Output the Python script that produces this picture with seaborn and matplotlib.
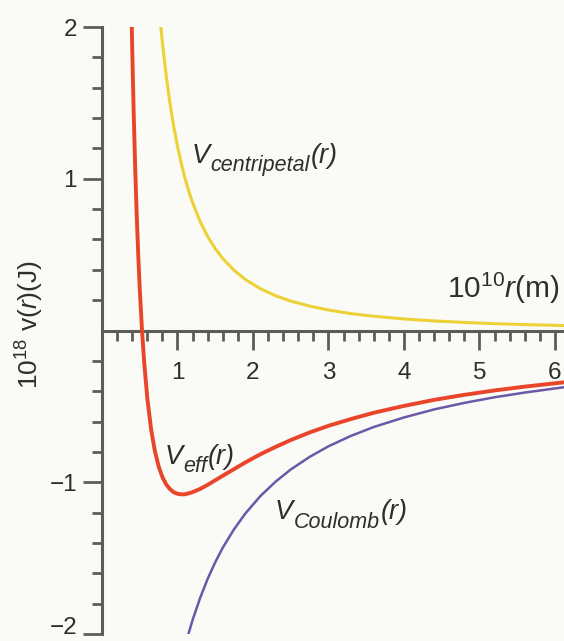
import numpy as np
import pandas as pd
import matplotlib
matplotlib.use("Agg")
import matplotlib.pyplot as plt
import matplotlib.transforms as mtransforms
import seaborn as sns
from matplotlib.ticker import FixedLocator

# ---- data (10^10 r in m, 10^18 V in J) ----
r = [0.38, 0.40, 0.42, 0.44, 0.46, 0.48, 0.50, 0.53, 0.56, 0.60, 0.65, 0.70,
     0.75, 0.80, 0.85, 0.90, 0.95, 1.00, 1.05, 1.10, 1.15, 1.20, 1.30, 1.40,
     1.50, 1.60, 1.75, 1.90, 2.10, 2.30, 2.50, 2.75, 3.00, 3.30, 3.60, 4.00,
     4.40, 4.80, 5.20, 5.60, 6.00, 6.15]
v_centripetal = [8.407, 7.588, 6.882, 6.271, 5.737, 5.269, 4.856, 4.322, 3.871,
                 3.372, 2.873, 2.478, 2.158, 1.897, 1.680, 1.499, 1.345, 1.214,
                 1.101, 1.003, 0.918, 0.843, 0.718, 0.619, 0.540, 0.474, 0.396,
                 0.336, 0.275, 0.229, 0.194, 0.161, 0.135, 0.111, 0.094, 0.076,
                 0.063, 0.053, 0.045, 0.039, 0.034, 0.032]
v_coulomb = [-6.026, -5.725, -5.452, -5.205, -4.978, -4.771, -4.580, -4.321,
             -4.089, -3.817, -3.523, -3.271, -3.053, -2.863, -2.694, -2.544,
             -2.411, -2.290, -2.181, -2.082, -1.991, -1.908, -1.762, -1.636,
             -1.527, -1.431, -1.309, -1.205, -1.090, -0.996, -0.916, -0.833,
             -0.763, -0.694, -0.636, -0.573, -0.520, -0.477, -0.440, -0.409,
             -0.382, -0.372]
v_eff = [2.381, 1.863, 1.430, 1.066, 0.759, 0.498, 0.276, 0.001, -0.218,
         -0.445, -0.650, -0.793, -0.895, -0.966, -1.014, -1.045, -1.066,
         -1.076, -1.080, -1.079, -1.073, -1.065, -1.044, -1.017, -0.987,
         -0.957, -0.913, -0.869, -0.815, -0.767, -0.722, -0.672, -0.628,
         -0.583, -0.542, -0.497, -0.457, -0.424, -0.395, -0.370, -0.348,
         -0.340]

x_major = [1, 2, 3, 4, 5, 6]
x_labels = ["1", "2", "3", "4", "5", "6"]
y_major = [-2, -1, 1, 2]
y_labels = ["\u22122", "\u22121", "1", "2"]

# ---- style ----
bg = "#fafaf6"
axis_col = "#5c5c58"
text_col = "#2e2e2e"
col_cent = "#ecd236"
col_eff = "#e8452a"
col_coul = "#6a58a8"

sns.set_theme(style="white")
plt.rcParams["font.family"] = ["Liberation Sans", "DejaVu Sans"]
plt.rcParams["mathtext.fontset"] = "custom"
plt.rcParams["mathtext.rm"] = "Liberation Sans"
plt.rcParams["mathtext.it"] = "Liberation Sans:italic"
plt.rcParams["mathtext.bf"] = "Liberation Sans:bold"

fig = plt.figure(figsize=(5.64, 6.41), dpi=100, facecolor=bg)
ax = fig.add_axes([102 / 564, 7 / 641, 462 / 564, 607 / 641])
ax.set_facecolor(bg)

sns.lineplot(x=r, y=v_centripetal, ax=ax, color=col_cent, linewidth=2.2,
             sort=False, legend=False)
sns.lineplot(x=r, y=v_coulomb, ax=ax, color=col_coul, linewidth=1.8,
             sort=False, legend=False)
sns.lineplot(x=r, y=v_eff, ax=ax, color=col_eff, linewidth=2.8,
             sort=False, legend=False)

ax.set_xlim(0, 6.12)
ax.set_ylim(-2, 2)

for s in ["top", "right"]:
    ax.spines[s].set_visible(False)
ax.spines["bottom"].set_position(("data", 0))
ax.spines["left"].set_bounds(-2, 2)
for s in ["bottom", "left"]:
    ax.spines[s].set_color(axis_col)
    ax.spines[s].set_linewidth(2.2)
    ax.spines[s].set_zorder(1)

x_minor = [v for v in np.round(np.arange(0.2, 6.13, 0.2), 2) if abs(v - round(v)) > 1e-6]
y_minor = [v for v in np.round(np.arange(-1.8, 1.81, 0.2), 2) if abs(v - round(v)) > 1e-6]
ax.xaxis.set_major_locator(FixedLocator(x_major))
ax.xaxis.set_minor_locator(FixedLocator(x_minor))
ax.yaxis.set_major_locator(FixedLocator(y_major))
ax.yaxis.set_minor_locator(FixedLocator(y_minor))
ax.set_xticklabels(x_labels)
ax.set_yticklabels(y_labels)

ax.tick_params(axis="x", which="major", direction="out", length=14, width=2,
               color=axis_col, pad=9, labelsize=17.5, labelcolor=text_col,
               bottom=True)
ax.tick_params(axis="x", which="minor", direction="out", length=7, width=2,
               color=axis_col, bottom=True)
ax.tick_params(axis="y", which="major", direction="out", length=14, width=2,
               color=axis_col, pad=4, labelsize=17.5, labelcolor=text_col,
               left=True)
ax.tick_params(axis="y", which="minor", direction="out", length=7, width=2,
               color=axis_col, left=True)

# nudge the lowest y label up so that it stays inside the picture
low = ax.get_yticklabels()[0]
low.set_transform(low.get_transform() +
                  mtransforms.ScaledTranslation(0, 6 / 72, fig.dpi_scale_trans))


# ---- annotations: V with a large italic subscript ----
def sub_label(x, y, main, sub, tail, size=19.5, sub_size=15.5, drop=6):
    kw = dict(color=text_col, style="italic", va="baseline", ha="left")
    t1 = ax.text(x, y, main, fontsize=size, **kw)
    t2 = ax.annotate(sub, xy=(1, y), xycoords=(t1, "data"),
                     xytext=(0.3, -drop), textcoords="offset points",
                     fontsize=sub_size, **kw)
    ax.annotate(tail, xy=(1, y), xycoords=(t2, "data"),
                xytext=(0.6, 0), textcoords="offset points",
                fontsize=size, **kw)


sub_label(1.19, 1.106, "V", "centripetal", "(r)")
sub_label(0.83, -0.88, "V", "eff", "(r)")
sub_label(2.29, -1.245, "V", "Coulomb", "(r)")

ax.text(4.57, 0.212, r"$10^{10}\mathit{r}\mathrm{(m)}$", fontsize=21.5,
        color=text_col, ha="left", va="baseline")

fig.text(30 / 564, 1 - 325 / 641, r"$10^{18}\ \mathrm{v(}\mathit{r}\mathrm{)(J)}$",
         rotation=90, fontsize=19, color=text_col, ha="center", va="center")

fig.savefig("out.png", dpi=100, facecolor=bg)
